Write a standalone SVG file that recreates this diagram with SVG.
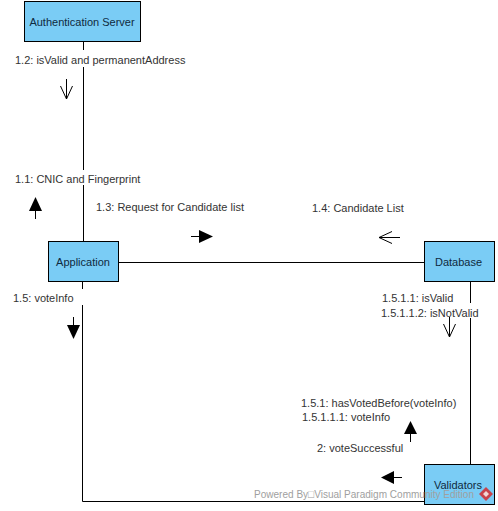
<svg xmlns="http://www.w3.org/2000/svg" width="498" height="511" viewBox="0 0 498 511">
<style>
text{font-family:"Liberation Sans",Arial,sans-serif;font-size:11px;fill:#333}
.n{fill:#7accf5;stroke:#000;stroke-width:1}
.l{text-anchor:middle;fill:#0f2a40}
.c{fill:none;stroke:#000;stroke-width:1}
.o{fill:none;stroke:#000;stroke-width:1}
.f{fill:#000;stroke:none}
.w{font-size:11px;fill:#a0a0a0}
</style>
<rect width="498" height="511" fill="#fff"/>
<g id="connectors">
<path class="c" d="M83.500 42V50M83.500 67V170M83.500 185V241"/>
<path class="c" d="M119 262.500H424"/>
<path class="c" d="M82.500 282V289M82.500 305V501.500H424"/>
<path class="c" d="M470.500 282V303M470.500 318V464"/>
</g>
<g id="node-auth"><rect class="n" x="24.500" y="1.500" width="116" height="40"/><text class="l" x="82" y="26">Authentication Server</text></g>
<g id="node-app"><rect class="n" x="48.500" y="241.500" width="70" height="40"/><text class="l" x="83" y="266">Application</text></g>
<g id="node-db"><rect class="n" x="424.500" y="241.500" width="70" height="40"/><text class="l" x="458.500" y="266">Database</text></g>
<g id="node-val"><rect class="n" x="424.500" y="464.500" width="70" height="40"/><text class="l" x="458" y="489">Validators</text></g>
<g id="labels">
<text x="15" y="64">1.2: isValid and permanentAddress</text>
<text x="15" y="183">1.1: CNIC and Fingerprint</text>
<text x="96" y="211">1.3: Request for Candidate list</text>
<text x="312" y="212">1.4: Candidate List</text>
<text x="13" y="302">1.5: voteInfo</text>
<text x="382" y="302">1.5.1.1: isValid</text>
<text x="381" y="317">1.5.1.1.2: isNotValid</text>
<text x="301" y="407">1.5.1: hasVotedBefore(voteInfo)</text>
<text x="302" y="421">1.5.1.1.1: voteInfo</text>
<text x="317" y="452">2: voteSuccessful</text>
</g>
<g id="arrows">
<path class="o" d="M66.500 79V99M60.500 86L66.500 99L72.500 86"/>
<path class="o" d="M35.500 219V205"/><path class="f" d="M35.500 197L42 211H29Z"/>
<path class="o" d="M191 236.500H203"/><path class="f" d="M213 236.500L199 230V243Z"/>
<path class="o" d="M400 237.500H379M392 231.500L379 237.500L392 243.500"/>
<path class="o" d="M73.500 317V332"/><path class="f" d="M73.500 339L67 325H80Z"/>
<path class="o" d="M449.500 317V337M443.500 324L449.500 337L455.500 324"/>
<path class="o" d="M410.500 442V428"/><path class="f" d="M410.500 421L417 434H404Z"/>
<path class="o" d="M402 477.500H392"/><path class="f" d="M381 477.500L394 471V484Z"/>
</g>
<g id="watermark">
<text class="w" x="254" y="498" textLength="220" lengthAdjust="spacingAndGlyphs">Powered By□Visual Paradigm Community Edition</text>
<path d="M486 487L493 494L486 501L479 494Z" fill="#c8434c"/>
<path d="M486 491L489 494L486 497L483 494Z" fill="#f2d6d6"/>
</g>
</svg>
